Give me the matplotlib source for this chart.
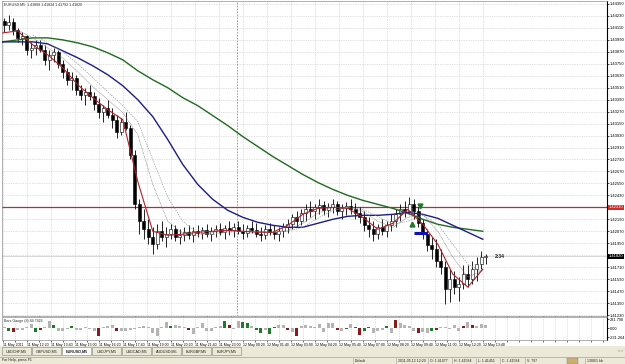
import numpy as np
import matplotlib.pyplot as plt
from matplotlib.patches import Rectangle
from matplotlib.transforms import blended_transform_factory

# EURUSD M5 from 11 May 2011 11:00, one candle per three M5 bars
first_open = 1.4418
highs = [1.4421, 1.4424, 1.4421, 1.4411, 1.4407, 1.4404, 1.4397, 1.4399, 1.4399, 1.4394,
         1.4389, 1.4391, 1.4389, 1.4379, 1.4371, 1.4367, 1.4364, 1.4354, 1.4351, 1.4354,
         1.4347, 1.4341, 1.4334, 1.4339, 1.4331, 1.4324, 1.4321, 1.4327, 1.4314, 1.4289,
         1.4239, 1.4229, 1.4219, 1.4211, 1.4214, 1.4217, 1.4211, 1.4214, 1.4213, 1.4209,
         1.4211, 1.4213, 1.4211, 1.4213, 1.4211, 1.4214, 1.4211, 1.4213, 1.4215, 1.4213,
         1.4217, 1.4215, 1.4217, 1.4214, 1.4213, 1.4217, 1.4215, 1.4211, 1.4213, 1.4215,
         1.4213, 1.4211, 1.4215, 1.4219, 1.4224, 1.4227, 1.4229, 1.4234, 1.4237, 1.4234,
         1.4239, 1.4237, 1.4235, 1.4239, 1.4237, 1.4234, 1.4236, 1.4239, 1.4235, 1.4231,
         1.4227, 1.4221, 1.4217, 1.4214, 1.4219, 1.4217, 1.4224, 1.4229, 1.4234, 1.4237,
         1.4241, 1.4239, 1.4231, 1.4219, 1.4209, 1.4201, 1.4199, 1.4189, 1.4177, 1.4169,
         1.4167, 1.4161, 1.4173, 1.4173, 1.4177, 1.4181, 1.4187, 1.4184]
lows = [1.4407, 1.4409, 1.4404, 1.4397, 1.4394, 1.4384, 1.4381, 1.4384, 1.4387, 1.4374,
        1.4369, 1.4377, 1.4371, 1.4361, 1.4354, 1.4349, 1.4344, 1.4339, 1.4334, 1.4339,
        1.4329, 1.4321, 1.4317, 1.4321, 1.4311, 1.4301, 1.4304, 1.4309, 1.4279, 1.4229,
        1.4204, 1.4199, 1.4194, 1.4184, 1.4189, 1.4197, 1.4191, 1.4199, 1.4197, 1.4194,
        1.4197, 1.4199, 1.4196, 1.4201, 1.4199, 1.4201, 1.4197, 1.4201, 1.4203, 1.4199,
        1.4203, 1.4201, 1.4204, 1.4199, 1.4201, 1.4205, 1.4201, 1.4197, 1.4199, 1.4203,
        1.4199, 1.4197, 1.4201, 1.4205, 1.4209, 1.4211, 1.4213, 1.4217, 1.4221, 1.4219,
        1.4224, 1.4223, 1.4221, 1.4225, 1.4223, 1.4219, 1.4223, 1.4224, 1.4219, 1.4215,
        1.4207, 1.4201, 1.4197, 1.4199, 1.4203, 1.4201, 1.4207, 1.4211, 1.4217, 1.4221,
        1.4224, 1.4219, 1.4211, 1.4199, 1.4187, 1.4179, 1.4171, 1.4164, 1.4134, 1.4136,
        1.4144, 1.4137, 1.4149, 1.4151, 1.4154, 1.4157, 1.4169, 1.4174]
closes = [1.4414, 1.4417, 1.4409, 1.4401, 1.4403, 1.4389, 1.4391, 1.4394, 1.4389, 1.4379,
          1.4384, 1.4387, 1.4375, 1.4367, 1.4359, 1.4361, 1.4349, 1.4344, 1.4347, 1.4343,
          1.4335, 1.4327, 1.4331, 1.4324, 1.4319, 1.4307, 1.4317, 1.4311, 1.4284, 1.4234,
          1.4217, 1.4209, 1.4201, 1.4194, 1.4207, 1.4201, 1.4204, 1.4209, 1.4201, 1.4203,
          1.4206, 1.4203, 1.4207, 1.4205, 1.4208, 1.4204, 1.4207, 1.4209, 1.4206, 1.4210,
          1.4208, 1.4211, 1.4207, 1.4205, 1.4210, 1.4208, 1.4204, 1.4203, 1.4209, 1.4206,
          1.4204, 1.4207, 1.4211, 1.4214, 1.4221, 1.4217, 1.4225, 1.4229, 1.4227, 1.4231,
          1.4233, 1.4228, 1.4231, 1.4234, 1.4227, 1.4230, 1.4232, 1.4229, 1.4225, 1.4221,
          1.4213, 1.4209, 1.4204, 1.4211, 1.4207, 1.4213, 1.4217, 1.4224, 1.4229, 1.4227,
          1.4234, 1.4227, 1.4215, 1.4204, 1.4193, 1.4189, 1.4177, 1.4171, 1.4149, 1.4159,
          1.4151, 1.4154, 1.4164, 1.4159, 1.4169, 1.4174, 1.4181, 1.4182]

# moving averages, sampled every 10 M5 bars
ma_step = 10
red_ma = [1.4406, 1.4408, 1.4394, 1.4384, 1.4371, 1.4354, 1.4341, 1.4329, 1.4319, 1.4257,
          1.4207, 1.4203, 1.4204, 1.4206, 1.4207, 1.4208, 1.4207, 1.4206, 1.4206, 1.4213,
          1.4224, 1.4230, 1.4231, 1.4230, 1.4221, 1.4209, 1.4215, 1.4229, 1.4214, 1.4194,
          1.4164, 1.4151, 1.4169]
gray_ma1 = [np.nan, 1.4409, 1.4401, 1.4391, 1.4381, 1.4367, 1.4352, 1.4339, 1.4326, 1.4304,
            1.4254, 1.4217, 1.4205, 1.4203, 1.4206, 1.4207, 1.4207, 1.4207, 1.4206, 1.4208,
            1.4215, 1.4225, 1.4231, 1.4231, 1.4227, 1.4217, 1.4211, 1.4221, 1.4224, 1.4207,
            1.4181, 1.4161, 1.4168]
gray_ma2 = [np.nan, np.nan, 1.4404, 1.4396, 1.4387, 1.4375, 1.4361, 1.4347, 1.4333, 1.4317,
            1.4279, 1.4241, 1.4217, 1.4205, 1.4204, 1.4206, 1.4207, 1.4207, 1.4206, 1.4207,
            1.4211, 1.4220, 1.4228, 1.4231, 1.4229, 1.4222, 1.4214, 1.4217, 1.4223, 1.4214,
            1.4194, 1.4174, 1.4166]
blue_ma = [1.4397, 1.4397, 1.4397, 1.4395, 1.4388, 1.4381, 1.4373, 1.4364, 1.4353, 1.4339,
           1.4322, 1.4299, 1.4274, 1.4254, 1.4239, 1.4228, 1.4221, 1.4216, 1.4213, 1.4211,
           1.4211, 1.4215, 1.4219, 1.4222, 1.4223, 1.4223, 1.4224, 1.4226, 1.4224, 1.4220,
           1.4213, 1.4206, 1.4199]
green_ma = [1.4397, 1.4399, 1.4401, 1.4401, 1.4399, 1.4396, 1.4392, 1.4386, 1.4379, 1.4368,
            1.4359, 1.4351, 1.4341, 1.4333, 1.4323, 1.4313, 1.4302, 1.4292, 1.4282, 1.4273,
            1.4264, 1.4256, 1.4249, 1.4243, 1.4238, 1.4234, 1.4230, 1.4225, 1.4219, 1.4214,
            1.4211, 1.4209, 1.4207]

level = 1.4231
sell_arrow = (278, 1.4232)
buy_arrow = (273, 1.4214)
blue_dash = (274, 283, 1.4205)

# indicator histogram, one value per candle; g = green, r = red, s = grey
gauge = [40, -60, -90, -50, -40, 30, 110, -100, -40, 20,
         190, 80, -70, -60, -30, 60, -50, -40, 20, -30,
         -80, -200, 30, 50, 90, -60, -70, -80, -50, -30,
         20, 50, 40, -110, -210, 40, 160, 60, 70, 50,
         30, -50, -140, 20, 130, -70, -60, 30, 60, 180,
         90, -30, 170, 150, 120, 60, -40, -130, -40, -150,
         40, 90, 70, -50, -90, -210, 60, 80, 50, 30,
         110, -90, 130, 140, -40, -60, -30, 100, 30, -180,
         -80, 20, -110, -60, -50, 60, -120, 200, 130, 80,
         60, -60, -130, -90, -110, -70, -40, 30, 20, -20,
         90, -80, 60, 160, 90, 60, 110, 90]
gauge_col = ("sgrssssgrssgsssgssss"
             "srsssrsssssssssssgss"
             "srsssssssgrssggsggsgg"
             "ssrsrssssssssrsgsgrgg"
             "sssgsrssssrssgrs"
             "ssssrsrsssssssgrsssggg")

time_labels = ["11 May 2011", "11 May 12:20", "11 May 13:40", "11 May 15:00", "11 May 16:20",
               "11 May 17:40", "11 May 19:00", "11 May 20:20", "11 May 21:40", "11 May 23:00",
               "12 May 00:20", "12 May 01:40", "12 May 03:00", "12 May 04:20", "12 May 05:40",
               "12 May 07:00", "12 May 08:20", "12 May 09:40", "12 May 11:00", "12 May 12:20",
               "12 May 13:40"]
tabs = ["USDCHF,M5", "GBPUSD,M5", "EURUSD,M5", "USDJPY,M5", "USDCAD,M5", "AUDUSD,M5",
        "EURGBP,M5", "EURJPY,M5"]
status = [(355, "Default"), (398, "2011.05.12 12:20"), (430, "O: 1.41477"), (454, "H: 1.41584"),
          (478, "L: 1.41451"), (502, "C: 1.41584"), (527, "V: 797"), (587, "1300/1 kb")]

plt.rcParams["font.family"] = ["Liberation Sans", "DejaVu Sans"]
FS = 3.0
W, H = 625, 364


def box(x0, y0, x1, y1):
    return [x0 / W, 1 - y1 / H, (x1 - x0) / W, (y1 - y0) / H]


fig = plt.figure(figsize=(6.25, 3.64), dpi=100)
fig.patch.set_facecolor("white")

ov = fig.add_axes([0, 0, 1, 1], zorder=-1)
ov.set_xlim(0, W)
ov.set_ylim(H, 0)
ov.axis("off")

ax = fig.add_axes(box(2, 1, 607, 316))
ind = fig.add_axes(box(2, 317, 607, 340), sharex=ax)

closes = np.array(closes)
opens = np.r_[first_open, closes[:-1]]
hi = np.maximum(np.array(highs), np.maximum(opens, closes))
lo = np.minimum(np.array(lows), np.minimum(opens, closes))
bars = 3 * np.arange(len(closes)) + 1

grid_kw = dict(color="#c4c4c4", linestyle=(0, (1, 1.5)), linewidth=0.5)

# price window
ax.set_xlim(-0.5, 402.8)
ax.set_ylim(1.4122, 1.4438)
yt = 1.4435 - 0.0012 * np.arange(27)
ax.set_yticks(yt)
# the level and bid boxes sit on top of the labels they cover
ax.set_yticklabels(["" if min(abs(v - level), abs(v - closes[-1])) < 0.0006 else "%.5f" % v
                    for v in yt])
ax.yaxis.tick_right()
ax.set_xticks(np.arange(0, 403, 8))
ax.tick_params(axis="x", length=0, labelbottom=False)
ax.tick_params(axis="y", length=1.5, width=0.5, pad=0.8, labelsize=FS)
ax.grid(True, **grid_kw)
ax.set_axisbelow(True)
for s in ["left", "top", "bottom"]:
    ax.spines[s].set_color("#909090")
    ax.spines[s].set_linewidth(0.5)
ax.spines["right"].set_linewidth(0.8)

ax.axvline(156, color="#909090", linestyle=(0, (2, 1.5)), linewidth=0.6, zorder=1)
ax.axhline(level, color="#a83244", linewidth=0.9, zorder=2)
ax.axhline(closes[-1], color="#c8c8c8", linewidth=0.5, zorder=1)

ax.vlines(bars, lo, hi, color="black", linewidth=0.6, zorder=3)
up = closes >= opens
ax.bar(bars, np.maximum(np.abs(closes - opens), 0.00003), bottom=np.minimum(opens, closes),
       width=1.8, color=np.where(up, "white", "black"), edgecolor="black", linewidth=0.4, zorder=4)

ma_x = np.arange(len(red_ma)) * ma_step
ax.plot(ma_x, green_ma, color="#1d6b1d", linewidth=1.0, zorder=5)
ax.plot(ma_x, blue_ma, color="#1c1c8a", linewidth=1.0, zorder=5)
ax.plot(ma_x, gray_ma2, color="#9a9a9a", linestyle=(0, (2, 1.5)), linewidth=0.5, zorder=5)
ax.plot(ma_x, gray_ma1, color="#707070", linestyle=(0, (1, 1)), linewidth=0.5, zorder=5)
ax.plot(ma_x, red_ma, color="#b0202a", linewidth=0.8, zorder=6)

ax.plot(*sell_arrow, marker="v", color="#1d7a2a", markersize=3.5, zorder=7)
ax.plot(*buy_arrow, marker="^", color="#1d7a2a", markersize=3.5, zorder=7)
ax.plot(blue_dash[:2], [blue_dash[2]] * 2, color="#1010c0", linewidth=2.2, zorder=7,
        solid_capstyle="butt")
ax.text(328, closes[-1], "2:34", fontsize=FS + 0.6, fontweight="bold", va="center", ha="left",
        color="#202020")

ax.text(0.003, 0.995, "EURUSD,M5  1.41808 1.41824 1.41792 1.41820", transform=ax.transAxes,
        fontsize=FS - 0.4, va="top", ha="left", color="#303030")

tr = blended_transform_factory(ax.transAxes, ax.transData)
ax.text(1.003, level, "%.5f" % level, transform=tr, fontsize=FS, color="white", va="center",
        ha="left", clip_on=False, zorder=10,
        bbox=dict(boxstyle="square,pad=0.12", fc="#d02c2c", ec="none"))
ax.text(1.003, closes[-1], "%.5f" % closes[-1], transform=tr, fontsize=FS, color="white",
        va="center", ha="left", clip_on=False, zorder=10,
        bbox=dict(boxstyle="square,pad=0.12", fc="black", ec="none"))

# indicator window
cmap = {"g": "#1f7a2a", "r": "#8b1a1a", "s": "#b4b4b4"}
ind.bar(bars, gauge, width=2.0, color=[cmap[c] for c in gauge_col], zorder=3)
ind.set_ylim(-300, 283)
ind.set_yticks([-231.264, 0, 231.79])
ind.set_yticklabels(["-231.264", "0.00", "231.790"])
ind.yaxis.tick_right()
ind.tick_params(axis="y", length=1.5, width=0.5, pad=0.8, labelsize=FS - 0.2)
ind.set_xticks(np.arange(len(time_labels)) * 16)
ind.set_xticklabels(time_labels, ha="left")
ind.set_xticks(np.arange(0, 403, 8), minor=True)
ind.tick_params(axis="x", which="both", length=1.5, width=0.4, pad=0.6, labelsize=2.6)
ind.grid(True, which="both", axis="x", **grid_kw)
ind.set_axisbelow(True)
for s in ["left", "top", "bottom"]:
    ind.spines[s].set_color("#909090")
    ind.spines[s].set_linewidth(0.5)
ind.spines["right"].set_linewidth(0.8)
ind.text(0.003, 0.93, "Bars Gauge (8) 84.7826", transform=ind.transAxes, fontsize=FS - 0.4,
         va="top", ha="left", color="#303030")

# tab strip and status bar
ov.add_patch(Rectangle((0, 346), W, 18, facecolor="#ece9d8", edgecolor="none"))
ov.plot([0, W], [356.5, 356.5], color="#a0a0a0", linewidth=0.5)
for i, name in enumerate(tabs):
    x0 = 2 + 30 * i
    active = name == "EURUSD,M5"
    ov.add_patch(Rectangle((x0, 347), 29, 8, facecolor="white" if active else "#ece9d8",
                           edgecolor="#808080", linewidth=0.4))
    ov.text(x0 + 14.5, 351.2, name, fontsize=2.7, ha="center", va="center",
            color="#202020", fontweight="bold" if active else "normal")
ov.text(2, 360.5, "For Help, press F1", fontsize=2.6, va="center", ha="left", color="#202020")
for x, txt in status:
    ov.plot([x - 2.5, x - 2.5], [357.5, 363.5], color="#a0a0a0", linewidth=0.4)
    ov.text(x, 360.5, txt, fontsize=2.5, va="center", ha="left", color="#202020")
ov.add_patch(Rectangle((567, 357.5), 11, 6, facecolor="#c8b070", edgecolor="#808080", linewidth=0.3))
ov.text(620, 351.5, "< >", fontsize=2.5, ha="center", va="center", color="#606060")

fig.savefig("out.png", dpi=100)
